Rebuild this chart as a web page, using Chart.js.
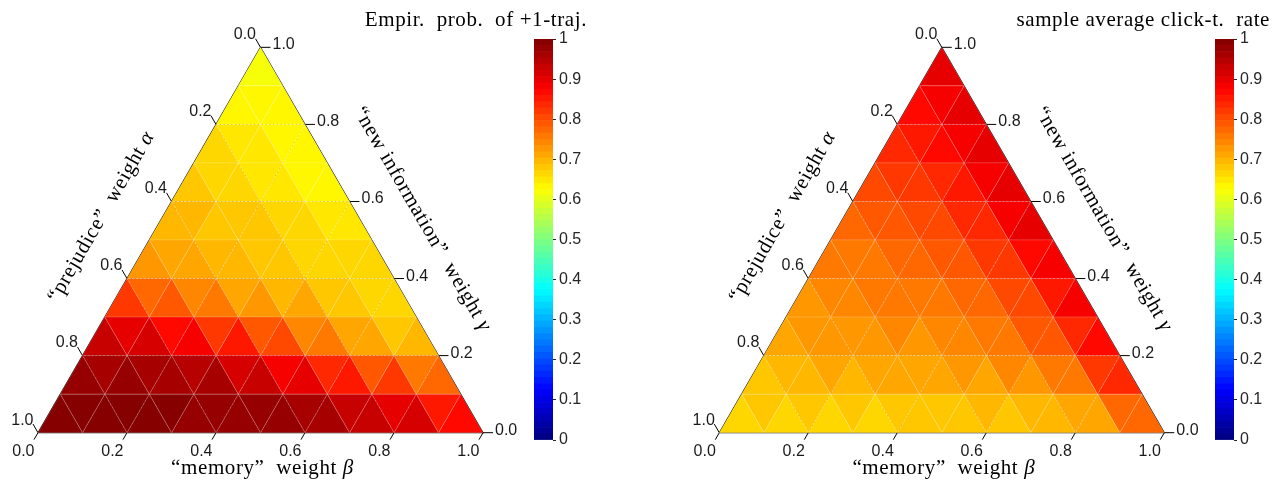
<!DOCTYPE html>
<html>
<head>
<meta charset="utf-8">
<script src="https://cdn.jsdelivr.net/npm/chart.js@4.4.0/dist/chart.umd.min.js"></script>
<style>
body { margin: 0; background: #fff; width: 1281px; height: 481px; position: relative; overflow: hidden; }
canvas { position: absolute; top: 0; }
</style>
</head>
<body>
<canvas id="tern1" width="640" height="481" style="left:0px;width:640px;height:481px"></canvas>
<canvas id="bar1" width="80" height="481" style="left:520px;width:80px;height:481px"></canvas>
<canvas id="tern2" width="641" height="481" style="left:640px;width:641px;height:481px"></canvas>
<canvas id="bar2" width="80" height="481" style="left:1201px;width:80px;height:481px"></canvas>
<script>
var tickValues = [0, 0.2, 0.4, 0.6, 0.8, 1];
var gridLevels = [0.2, 0.4, 0.6, 0.8];
var colorbarTicks = [0, 0.1, 0.2, 0.3, 0.4, 0.5, 0.6, 0.7, 0.8, 0.9, 1];
var colorbarLevels = 64;

// one row per gamma = 0, 0.1, ..., 1 ; inside a row beta = 0, 0.1, ...
var probPlusOne = [
    [0.99, 0.99, 0.99, 0.99, 0.98, 0.98, 0.97, 0.96, 0.95, 0.92, 0.88],
    [0.99, 0.99, 0.99, 0.98, 0.97, 0.96, 0.93, 0.89, 0.85, 0.80],
    [0.95, 0.95, 0.93, 0.91, 0.87, 0.81, 0.75, 0.71, 0.69],
    [0.88, 0.85, 0.80, 0.76, 0.73, 0.70, 0.68, 0.67],
    [0.73, 0.72, 0.70, 0.69, 0.68, 0.67, 0.66],
    [0.71, 0.70, 0.68, 0.67, 0.66, 0.64],
    [0.69, 0.68, 0.67, 0.64, 0.63],
    [0.67, 0.66, 0.63, 0.62],
    [0.65, 0.64, 0.63],
    [0.63, 0.61],
    [0.60]
];
var clickRate = [
    [0.66, 0.66, 0.66, 0.66, 0.66, 0.66, 0.67, 0.67, 0.68, 0.70, 0.73],
    [0.68, 0.68, 0.69, 0.69, 0.70, 0.70, 0.71, 0.72, 0.74, 0.87],
    [0.70, 0.71, 0.72, 0.72, 0.73, 0.74, 0.76, 0.80, 0.90],
    [0.72, 0.73, 0.74, 0.75, 0.76, 0.78, 0.82, 0.91],
    [0.74, 0.75, 0.76, 0.77, 0.79, 0.83, 0.92],
    [0.76, 0.77, 0.79, 0.81, 0.85, 0.92],
    [0.79, 0.80, 0.82, 0.86, 0.92],
    [0.82, 0.84, 0.87, 0.92],
    [0.85, 0.88, 0.92],
    [0.87, 0.91],
    [0.90]
];

var SQ3 = Math.sqrt(3) / 2;
var SIDE = 445; // pixels per unit of the triangle side

function clamp(v) { return Math.max(0, Math.min(1, v)); }

function jet(v) {
    var k = Math.min(colorbarLevels - 1, Math.max(0, Math.floor(v * colorbarLevels)));
    var t = (k + 0.5) / colorbarLevels;
    var r = clamp(1.5 - Math.abs(4 * t - 3));
    var g = clamp(1.5 - Math.abs(4 * t - 2));
    var b = clamp(1.5 - Math.abs(4 * t - 1));
    return 'rgb(' + Math.round(r * 255) + ',' + Math.round(g * 255) + ',' + Math.round(b * 255) + ')';
}

// ternary point (beta, gamma) -> cartesian
function pt(beta, gamma) {
    return { x: beta + gamma / 2, y: gamma * SQ3 };
}

function segment(a, b, color, width, dash) {
    return {
        data: [a, b], showLine: true, fill: false, pointRadius: 0,
        borderColor: color, borderWidth: width, borderDash: dash || []
    };
}

function buildDatasets(rows) {
    var ds = [];
    var n = rows.length - 1;
    for (var i = 0; i < n; i++) {
        for (var j = 0; j < n - i; j++) {
            var a = pt(j / n, i / n), b = pt((j + 1) / n, i / n), c = pt(j / n, (i + 1) / n);
            var v = (rows[i][j] + rows[i][j + 1] + rows[i + 1][j]) / 3;
            ds.push({ data: [a, b, c, a], showLine: true, fill: 'shape', pointRadius: 0,
                backgroundColor: jet(v), borderColor: 'rgba(255,255,255,0.22)', borderWidth: 0.7 });
            if (j < n - i - 1) {
                var d = pt((j + 1) / n, (i + 1) / n);
                var w = (rows[i][j + 1] + rows[i + 1][j] + rows[i + 1][j + 1]) / 3;
                ds.push({ data: [b, d, c, b], showLine: true, fill: 'shape', pointRadius: 0,
                    backgroundColor: jet(w), borderColor: 'rgba(255,255,255,0.22)', borderWidth: 0.7 });
            }
        }
    }
    gridLevels.forEach(function (c) {
        ds.push(segment(pt(0, c), pt(1 - c, c), '#111', 1.1, [1.2, 2.6]));
        ds.push(segment(pt(c, 0), pt(c, 1 - c), '#111', 1.1, [1.2, 2.6]));
        ds.push(segment(pt(1 - c, 0), pt(0, 1 - c), '#111', 1.1, [1.2, 2.6]));
    });
    ds.push({ data: [pt(0, 0), pt(1, 0), pt(0, 1), pt(0, 0)], showLine: true, fill: false,
        pointRadius: 0, borderColor: '#000', borderWidth: 1.1 });
    var tl = 10 / SIDE, tb = 8 / SIDE;
    tickValues.forEach(function (v) {
        var p = pt(0, 1 - v);
        ds.push(segment(p, { x: p.x - 0.5 * tl, y: p.y + SQ3 * tl }, '#000', 1));
        var q = pt(1 - v, v);
        ds.push(segment(q, { x: q.x + tl, y: q.y }, '#000', 1));
        var r = pt(v, 0);
        ds.push(segment(r, { x: r.x - 0.5 * tb, y: r.y - SQ3 * tb }, '#000', 1));
    });
    return ds;
}

function drawParts(ctx, parts, x, y, angle, align) {
    ctx.save();
    ctx.translate(x, y);
    ctx.rotate(angle);
    ctx.letterSpacing = '0.6px';
    var total = 0;
    parts.forEach(function (p) { ctx.font = p[1]; total += ctx.measureText(p[0]).width; });
    var cx = align === 'right' ? -total : -total / 2;
    ctx.textAlign = 'left';
    ctx.fillStyle = '#000';
    parts.forEach(function (p) {
        ctx.font = p[1];
        ctx.fillText(p[0], cx, 0);
        cx += ctx.measureText(p[0]).width;
    });
    ctx.restore();
}

var serif = '21px "Liberation Serif"';
var serifIt = 'italic 21px "Liberation Serif"';

function textPlugin(title, titleX) {
    return {
        id: 'ternText',
        afterDraw: function (chart) {
            var ctx = chart.ctx;
            var sx = chart.scales.x, sy = chart.scales.y;
            function px(p) { return { x: sx.getPixelForValue(p.x), y: sy.getPixelForValue(p.y) }; }
            var tl = 10 / SIDE, tb = 8 / SIDE;
            ctx.save();
            ctx.font = '16px "Liberation Sans"';
            ctx.fillStyle = '#1a1a1a';
            ctx.textBaseline = 'alphabetic';
            tickValues.forEach(function (v) {
                var lab = v.toFixed(1);
                var p = pt(0, 1 - v);
                var e = px({ x: p.x - 0.5 * tl, y: p.y + SQ3 * tl });
                ctx.textAlign = 'right';
                ctx.fillText(lab, e.x + 0.5, e.y + 0.5);
                var q = pt(1 - v, v);
                var f = px({ x: q.x + tl, y: q.y });
                ctx.textAlign = 'left';
                ctx.fillText(lab, f.x + 2, f.y + 2);
                var r = pt(v, 0);
                var g = px({ x: r.x - 0.5 * tb, y: r.y - SQ3 * tb });
                ctx.textAlign = 'right';
                ctx.fillText(lab, g.x + 0.5, g.y + 16.5);
            });
            ctx.restore();

            ctx.save();
            ctx.textBaseline = 'alphabetic';
            var bl = px(pt(0, 0)), br = px(pt(1, 0)), tp = px(pt(0, 1));
            drawParts(ctx, [['\u201Cmemory\u201D  weight ', serif], ['\u03B2', serifIt]],
                (bl.x + br.x) / 2 + 2, 474, 0, 'center');
            ctx.textBaseline = 'middle';
            var ml = { x: (bl.x + tp.x) / 2, y: (bl.y + tp.y) / 2 };
            drawParts(ctx, [['\u201Cprejudice\u201D  weight ', serif], ['\u03B1', serifIt]],
                ml.x - 0.866 * 53 - 0.5 * 4, ml.y - 0.5 * 53 + 0.866 * 4, -Math.PI / 3, 'center');
            var mr = { x: (br.x + tp.x) / 2, y: (br.y + tp.y) / 2 };
            drawParts(ctx, [['\u201Cnew information\u201D  weight ', serif], ['\u03B3', serifIt]],
                mr.x + 0.866 * 54 + 0.5 * 7, mr.y - 0.5 * 54 + 0.866 * 7, Math.PI / 3, 'center');
            ctx.textBaseline = 'alphabetic';
            drawParts(ctx, [[title, serif]], titleX, 26, 0, 'right');
            ctx.restore();
        }
    };
}

function creaTernario(id, rows, offsetX, title, titleX) {
    var canvas = document.getElementById(id);
    var W = canvas.width, H = canvas.height, baseY = 432.7;
    new Chart(canvas.getContext('2d'), {
        type: 'scatter',
        data: { datasets: buildDatasets(rows) },
        options: {
            responsive: false,
            animation: false,
            events: [],
            layout: { padding: 0 },
            plugins: { legend: { display: false }, tooltip: { enabled: false } },
            scales: {
                x: { type: 'linear', display: false, min: -offsetX / SIDE, max: (W - offsetX) / SIDE },
                y: { type: 'linear', display: false, min: -(H - baseY) / SIDE, max: baseY / SIDE }
            }
        },
        plugins: [textPlugin(title, titleX)]
    });
}

function creaColorbar(id) {
    var ds = [];
    for (var k = 0; k < colorbarLevels; k++) {
        ds.push({ data: [[k / colorbarLevels, (k + 1) / colorbarLevels]], backgroundColor: jet((k + 0.5) / colorbarLevels),
            borderWidth: 0, grouped: false, barPercentage: 1, categoryPercentage: 1 });
    }
    ds.push({ data: [[0, 1]], backgroundColor: 'rgba(0,0,0,0)', borderColor: '#262626', borderWidth: 1,
        borderSkipped: false, grouped: false, barPercentage: 1, categoryPercentage: 1 });
    new Chart(document.getElementById(id).getContext('2d'), {
        type: 'bar',
        data: { labels: [''], datasets: ds },
        options: {
            responsive: false,
            animation: false,
            events: [],
            layout: { padding: { left: 14, top: 39, bottom: 41, right: 0 } },
            plugins: { legend: { display: false }, tooltip: { enabled: false } },
            scales: {
                x: { display: false },
                y: {
                    position: 'right', min: 0, max: 1,
                    afterFit: function (s) { s.width = 47; },
                    afterBuildTicks: function (s) { s.ticks = colorbarTicks.map(function (v) { return { value: v }; }); },
                    ticks: {
                        color: '#262626', padding: 3,
                        font: { family: 'Liberation Sans', size: 16 },
                        callback: function (v) { return (v === 0 || v === 1) ? String(v) : v.toFixed(1); }
                    },
                    grid: { drawOnChartArea: false, drawTicks: true, tickLength: 3, color: '#262626' },
                    border: { display: false }
                }
            }
        }
    });
}

document.addEventListener('DOMContentLoaded', function () {
    creaTernario('tern1', probPlusOne, 38, 'Empir.  prob.  of +1-traj.', 587);
    creaTernario('tern2', clickRate, 79.3, 'sample average click-t.  rate', 630);
    creaColorbar('bar1');
    creaColorbar('bar2');
});
</script>
</body>
</html>
